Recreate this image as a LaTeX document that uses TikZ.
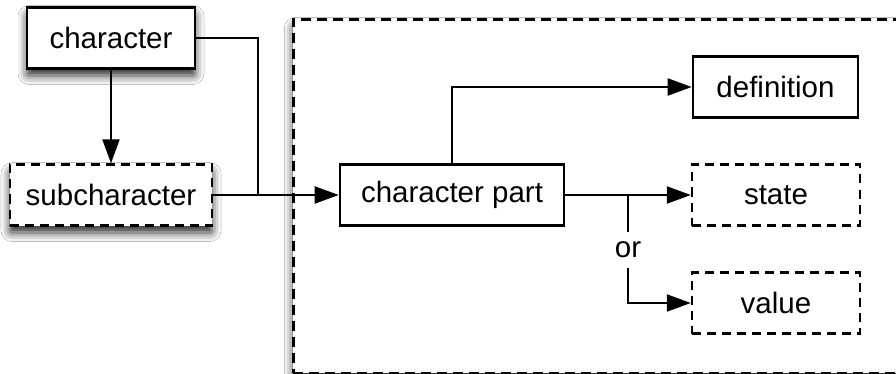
\documentclass[tikz,border=0pt]{standalone}
\usepackage{fontspec}
\setmainfont{Liberation Sans}
\usetikzlibrary{arrows.meta,shadows.blur}
\begin{document}
\begin{tikzpicture}[x=1pt,y=-1pt,
  base/.style={draw=black, fill=white, inner sep=0pt, minimum height=61pt,
    font=\fontsize{29.5}{34}\selectfont, text=black},
  solidbox/.style={base, line width=2.6pt},
  dashbox/.style={base, line width=2.4pt, dash pattern=on 9pt off 6pt},
  shad/.style={blur shadow={shadow xshift=0pt, shadow yshift=-7pt, shadow blur radius=9pt, shadow blur extra rounding=2pt, shadow opacity=85}},
  conn/.style={line width=2.2pt, draw=black},
  arr/.style={conn, -{Triangle[length=24pt,width=17pt]}},
]
\useasboundingbox (0,0) rectangle (896,374);
\clip (0,0) rectangle (896,374);
\fill[white] (0,0) rectangle (896,374);
% container
\node[draw=black, line width=2.6pt, dash pattern=on 10pt off 6pt, fill=white,
  shad, inner sep=0pt, minimum width=640pt, minimum height=354pt, anchor=north west]
  (frame) at (292,18) {};
% nodes
\node[solidbox, shad, minimum width=168pt] (character) at (111,38) {character};
\node[dashbox, shad, minimum width=202pt] (subcharacter) at (111,195) {subcharacter};
\node[solidbox, minimum width=224pt] (charpart) at (452,195) {character part};
\node[solidbox, minimum width=165pt] (definition) at (775.5,87) {definition};
\node[dashbox, minimum width=168pt] (state) at (776,195) {state};
\node[dashbox, minimum width=168pt] (value) at (776,303) {value};
\node[font=\fontsize{29.5}{34}\selectfont, inner sep=0pt, minimum height=35pt] (or) at (628,250) {or};
% junctions
\coordinate (junc) at (258,195);
\coordinate (branch) at (628,195);
% connectors
\draw[arr] (character.south) -- (subcharacter.north);
\draw[conn] (character.east) -| (junc);
\draw[arr] (subcharacter.east) -- (charpart.west);
\draw[arr] (charpart.north) |- (definition.west);
\draw[arr] (charpart.east) -- (state.west);
\draw[conn] (branch) -- (or.north);
\draw[arr] (or.south) |- (value.west);
\end{tikzpicture}
\end{document}
